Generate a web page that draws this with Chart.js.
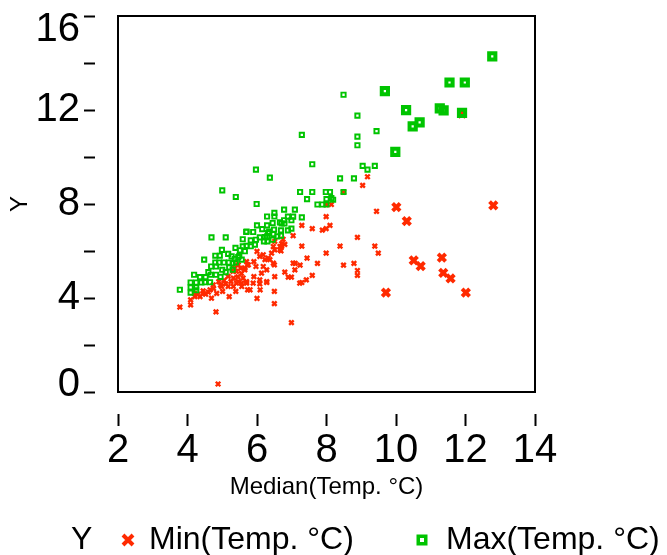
<!DOCTYPE html>
<html>
<head>
<meta charset="utf-8">
<script src="https://cdn.jsdelivr.net/npm/chart.js@4.4.0/dist/chart.umd.min.js"></script>
<style>
  html, body { margin: 0; padding: 0; background: #fff; }
</style>
</head>
<body>
<canvas id="tempScatter" width="667" height="555"></canvas>
<script>
// medians and min/max temperatures
const minMedian = [9.71, 10.01, 10.31, 10.51, 10.71, 11.32, 11.36, 11.57, 11.9, 12.01, 12.8,
  9.18, 9.04, 8.49, 8.0, 8.14, 9.44, 7.99, 7.29, 8.1, 7.59, 7.88, 7.99, 7.04, 8.89, 6.8, 6.71, 6.69,
  7.29, 8.39, 9.39, 9.49, 7.44, 7.99, 7.1, 7.24, 7.74, 8.49, 8.79, 8.89, 8.89, 6.8, 7.59, 6.9, 6.99,
  6.99, 6.5, 6.5, 6.0, 5.8, 6.09, 7.29, 4.88, 6.75, 6.71, 6.51, 6.47, 6.51, 6.66, 6.66, 6.42, 6.32,
  6.37, 6.18, 6.23, 6.0, 6.08, 5.91, 5.97, 5.7, 5.75, 5.65, 5.46, 5.36, 5.31, 6.47, 6.28, 6.18, 6.13,
  5.91, 6.08, 6.28, 5.6, 5.46, 5.56, 6.51, 7.04, 7.23, 7.42, 7.09, 5.89, 6.08, 6.28, 5.7, 6.5,
  3.78, 4.09, 4.09, 4.21, 4.36, 4.52, 4.69, 4.82, 5.2, 5.39, 5.56, 5.7, 5.73, 4.84, 5.01, 4.98, 5.17,
  5.32, 5.41, 5.53, 5.65, 5.72, 5.17, 5.32, 4.65, 4.45, 4.74, 5.41, 4.9, 5.05,
  4.3, 4.45, 4.6, 4.75, 5.1, 5.25, 4.95, 5.45, 5.55, 4.2];
const minTemp = [4.23, 7.87, 7.27, 5.6, 5.36, 5.72, 5.07, 4.83, 11.85, 4.23, 7.94,
  9.16, 8.79, 8.51, 7.97, 7.98, 7.69, 7.46, 7.09, 7.09, 6.95, 6.89, 6.95, 6.65, 6.58, 6.28, 6.2, 6.01,
  6.21, 6.21, 6.21, 5.91, 5.7, 5.91, 5.47, 5.4, 5.47, 5.4, 5.47, 5.17, 4.96, 5.1, 4.96, 4.89, 4.89,
  2.95, 3.76, 4.28, 3.98, 4.35, 4.35, 4.66, 0.34, 6.5, 6.31, 6.41, 6.19, 6.05, 6.19, 6.05, 5.91, 5.7,
  5.63, 5.84, 5.63, 5.98, 5.77, 5.55, 5.34, 5.55, 5.41, 5.27, 5.41, 5.27, 5.13, 5.48, 5.2, 5.34, 5.06,
  4.91, 4.77, 4.7, 4.85, 4.7, 4.49, 4.91, 5.48, 4.63, 4.77, 5.2, 4.63, 4.6, 4.66, 4.7, 5.41,
  3.61, 3.71, 3.92, 4.06, 4.06, 4.16, 3.99, 3.41, 4.06, 4.28, 4.63, 4.63, 4.35, 4.2, 4.28, 4.49, 4.49,
  4.49, 5.13, 5.27, 5.2, 5.41, 4.92, 4.85, 4.35, 4.2, 4.56, 4.63, 4.7, 4.75,
  4.15, 4.3, 4.25, 4.4, 4.6, 4.7, 4.55, 4.9, 5.05, 4.2];

const maxMedian = [9.68, 9.98, 10.29, 10.48, 10.68, 11.26, 11.37, 11.54, 11.9, 11.98, 12.77,
  8.49, 8.89, 9.44, 7.29, 8.89, 8.89, 7.59, 9.04, 9.18, 9.39, 8.39, 8.79, 7.24, 7.59, 7.98, 8.1, 8.49,
  7.44, 8.0, 8.14, 8.19, 7.74, 7.88, 8.0, 5.97, 6.37, 5.0, 5.39, 5.99,
  6.78, 7.09, 6.5, 6.5, 6.29, 6.89, 7.04, 7.29, 6.78, 6.99, 6.71, 6.79, 6.0, 6.29, 6.45, 6.66, 6.99,
  6.69, 6.89, 6.15, 6.35, 6.49, 5.69, 5.89, 5.7, 6.32, 6.47, 6.29, 6.69, 4.69, 5.1, 5.59, 5.82, 5.97,
  6.08, 6.23, 6.2, 6.3, 6.45, 6.59, 5.59, 5.7, 5.82, 5.94, 4.99, 5.38, 5.51, 5.65, 4.48, 4.8, 4.93,
  5.17, 5.49, 5.27, 5.36, 5.46, 5.56, 4.8, 4.91, 5.05, 5.19, 5.39, 5.3, 4.68, 4.82, 4.19, 4.67, 4.82,
  4.36, 4.52, 4.09, 4.25, 4.4, 4.5, 4.65, 4.09, 4.25, 4.09, 4.25, 3.78, 5.0, 5.1, 5.2, 4.95, 5.3, 4.6];
const maxTemp = [12.8, 10.22, 11.99, 11.3, 11.47, 12.07, 11.98, 13.17, 11.88, 13.17, 14.28,
  12.65, 11.76, 11.1, 10.94, 10.87, 10.5, 9.69, 9.62, 9.46, 9.62, 9.09, 9.09, 8.51, 8.51, 8.51, 8.51, 8.51,
  8.21, 8.21, 8.25, 8.18, 7.98, 7.98, 7.98, 9.46, 9.12, 8.58, 8.3, 8.0,
  7.76, 7.76, 7.62, 7.47, 7.47, 7.46, 7.46, 7.43, 7.31, 7.31, 7.17, 7.17, 7.09, 7.09, 7.19, 7.22, 6.95,
  6.88, 6.88, 6.93, 6.83, 6.91, 6.81, 6.81, 6.83, 6.76, 6.72, 6.62, 6.65, 6.58, 6.58, 6.5, 6.45, 6.48,
  6.58, 6.59, 6.41, 6.41, 6.48, 6.62, 6.2, 6.22, 6.2, 6.27, 6.05, 6.13, 6.03, 5.99, 5.63, 5.8, 5.8,
  5.88, 5.8, 5.77, 5.66, 5.74, 5.63, 5.51, 5.51, 5.51, 5.51, 5.51, 5.48, 5.34, 5.34, 4.99, 4.99, 4.99,
  4.89, 4.89, 4.66, 4.66, 4.66, 4.67, 4.67, 4.45, 4.45, 4.23, 4.33, 4.35, 5.2, 5.1, 5.3, 4.9, 5.2, 5.1];

const seriesNames = ['Min(Temp. °C)', 'Max(Temp. °C)'];
const labeledY = [0, 4, 8, 12, 16];

const FONT = 'Arial, "Liberation Sans", sans-serif';
const RED = '#ff2a00';
const GREEN = '#00c400';

function toPoints(xs, ys) {
  return xs.map((x, i) => ({ x: x, y: ys[i] }));
}

// the warmest medians are drawn with bigger marks
function isBig(c) {
  return c.raw && c.raw.x > 9.55;
}

// frame round the plot area
const plotFrame = {
  id: 'plotFrame',
  beforeDatasetsDraw(chart) {
    const a = chart.chartArea;
    const c = chart.ctx;
    c.save();
    c.strokeStyle = '#000';
    c.lineWidth = 2;
    c.strokeRect(a.left, a.top, a.right - a.left, a.bottom - a.top);
    c.restore();
  }
};

// legend row: "Y" followed by both series
const legendRow = {
  id: 'legendRow',
  afterDraw(chart) {
    const c = chart.ctx;
    const y = 540;
    c.save();
    c.font = '32px ' + FONT;
    c.fillStyle = '#000';
    c.textBaseline = 'middle';
    c.fillText('Y', 71, y);
    c.fillText(chart.data.datasets[0].label, 149, y);
    c.fillText(chart.data.datasets[1].label, 446, y);

    c.strokeStyle = RED;
    c.lineWidth = 4;
    c.beginPath();
    c.moveTo(123, y - 5); c.lineTo(133, y + 5);
    c.moveTo(123, y + 5); c.lineTo(133, y - 5);
    c.stroke();

    c.strokeStyle = GREEN;
    c.lineWidth = 3.5;
    c.strokeRect(418.25, y - 3.75, 7.5, 7.5);
    c.restore();
  }
};

const ctx = document.getElementById('tempScatter').getContext('2d');
const tempChart = new Chart(ctx, {
  type: 'scatter',
  data: {
    datasets: [{
      label: seriesNames[0],
      data: toPoints(minMedian, minTemp),
      order: 1,
      pointStyle: 'crossRot',
      pointBorderColor: RED,
      pointBackgroundColor: RED,
      pointRadius: c => isBig(c) ? 5.3 : 3.2,
      pointBorderWidth: c => isBig(c) ? 3.9 : 2.4,
      pointHoverRadius: c => isBig(c) ? 5.3 : 3.2,
    }, {
      label: seriesNames[1],
      data: toPoints(maxMedian, maxTemp),
      order: 0,
      pointStyle: 'rect',
      pointBorderColor: GREEN,
      pointBackgroundColor: 'rgba(0,0,0,0)',
      pointRadius: c => isBig(c) ? 4.4 : 3,
      pointBorderWidth: c => isBig(c) ? 4 : 1.9,
      pointHoverRadius: c => isBig(c) ? 4.4 : 3,
    }]
  },
  options: {
    responsive: false,
    animation: false,
    layout: {
      padding: { left: 6, right: 132, top: 16, bottom: 53 }
    },
    plugins: {
      legend: { display: false },
      tooltip: { enabled: false },
    },
    scales: {
      x: {
        type: 'linear',
        min: 2,
        max: 14,
        border: { display: false },
        grid: {
          drawOnChartArea: false,
          tickLength: 34,
          tickWidth: 2,
          tickColor: '#000',
          tickBorderDash: [12, 22],
          tickBorderDashOffset: 12,
        },
        ticks: {
          stepSize: 2,
          autoSkip: false,
          maxRotation: 0,
          padding: 1,
          color: '#000',
          font: { family: FONT, size: 40 },
        },
        title: {
          display: true,
          text: 'Median(Temp. °C)',
          color: '#000',
          font: { family: FONT, size: 24 },
          padding: { top: 0, bottom: 0 },
        },
        afterFit: scale => { scale.height = 110; },
      },
      y: {
        type: 'linear',
        min: 0,
        max: 16,
        border: { display: false },
        grid: {
          drawOnChartArea: false,
          tickLength: 34,
          tickWidth: 2,
          tickColor: '#000',
          tickBorderDash: [11, 40],
        },
        ticks: {
          stepSize: 2,
          autoSkip: false,
          padding: 4,
          color: '#000',
          // edge labels sit inside the axis span, as in the picture
          font: c => {
            let lh = 1.2;
            if (c.tick && c.tick.value === 16) lh = 0.675;
            if (c.tick && c.tick.value === 0) lh = 0.35;
            return { family: FONT, size: 40, lineHeight: lh };
          },
          callback: v => {
            if (!labeledY.includes(v)) return '';
            if (v === 16) return ['', '16'];
            if (v === 0) return ['0', ''];
            return String(v);
          },
        },
        title: {
          display: true,
          text: 'Y',
          color: '#000',
          font: { family: FONT, size: 24 },
          padding: 0,
        },
        afterFit: scale => {
          scale.width = 112;
          scale.paddingTop = 0;
          scale.paddingBottom = 0;
        },
      },
    },
  },
  plugins: [plotFrame, legendRow],
});
</script>
</body>
</html>
